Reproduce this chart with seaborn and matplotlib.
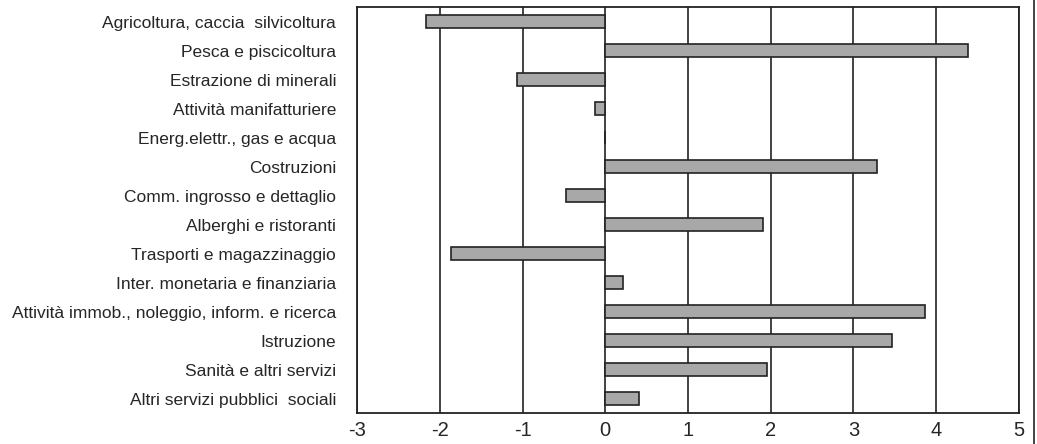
import matplotlib
matplotlib.use("Agg")
import matplotlib.pyplot as plt
import seaborn as sns
import pandas as pd
from matplotlib.lines import Line2D

# data
settori = [
    "Agricoltura, caccia  silvicoltura",
    "Pesca e piscicoltura",
    "Estrazione di minerali",
    "Attività manifatturiere",
    "Energ.elettr., gas e acqua",
    "Costruzioni",
    "Comm. ingrosso e dettaglio",
    "Alberghi e ristoranti",
    "Trasporti e magazzinaggio",
    "Inter. monetaria e finanziaria",
    "Attività immob., noleggio, inform. e ricerca",
    "Istruzione",
    "Sanità e altri servizi",
    "Altri servizi pubblici  sociali",
]
valori = [-2.17, 4.39, -1.07, -0.13, 0.0, 3.29, -0.47, 1.91, -1.86, 0.22, 3.86, 3.47, 1.95, 0.41]
x_ticks = [-3, -2, -1, 0, 1, 2, 3, 4, 5]

df = pd.DataFrame({"settore": settori, "valore": valori})

sns.set_style("white")
plt.rcParams['font.family'] = ['Liberation Sans Narrow', 'Liberation Sans', 'DejaVu Sans']

fig = plt.figure(figsize=(10.37, 4.44), dpi=100)
ax = fig.add_axes([0.3443, 0.0698, 0.6383, 0.9144])

# gridlines first so bars sit on top
for t in x_ticks:
    ax.axvline(t, color="#333333", lw=1.3, zorder=0)

sns.barplot(data=df, y="settore", x="valore", orient="h", color="#a8a8a8",
            edgecolor="#222222", linewidth=1.2, width=0.45, saturation=1, ax=ax, zorder=2)

ax.set_xlim(-3, 5)
ax.set_ylim(len(settori) - 0.5, -0.5)
ax.set_xticks(x_ticks)
ax.set_xticklabels([str(t) for t in x_ticks], fontsize=14.5, family=['Liberation Sans', 'DejaVu Sans'])
ax.tick_params(axis="x", length=0, pad=6)
ax.tick_params(axis="y", length=0, labelsize=12.5, pad=15)
ax.set_xlabel("")
ax.set_ylabel("")
for s in ax.spines.values():
    s.set_visible(True)
    s.set_color("#222222")
    s.set_linewidth(1.3)

# thin frame line at the right edge of the picture
fig.add_artist(Line2D([0.997, 0.997], [0, 1], transform=fig.transFigure, color="#222222", lw=1.2))

fig.savefig("out.png", dpi=100, facecolor="white")
